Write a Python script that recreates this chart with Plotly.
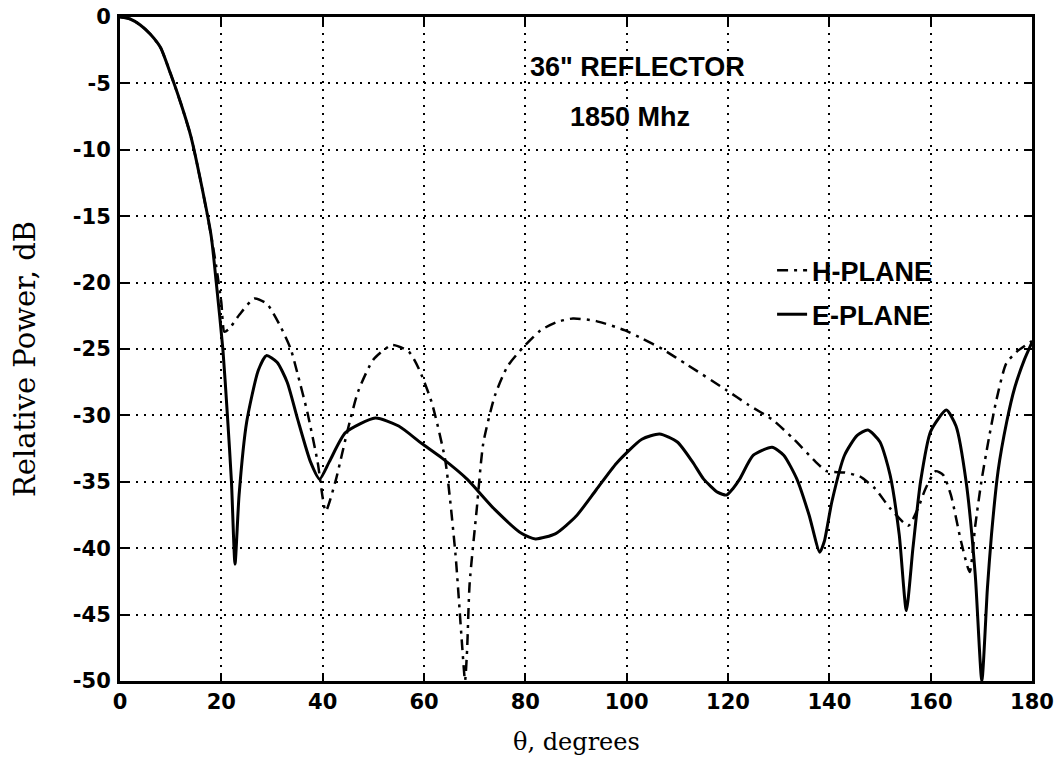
import plotly.graph_objects as go

# E-PLANE (solid)
e_theta = [0, 2, 4, 6, 8, 10, 12, 14, 16, 18, 19, 20.3, 21.2, 22, 22.7, 23.5, 25, 27.3, 28.9, 31, 33, 35,
           37.6, 39.4, 41.3, 44.5, 50.4, 55, 59.5, 63.5, 68.5, 74, 79.3, 82, 86, 90, 94, 98, 103, 106.5, 110,
           113, 115.2, 118, 119.7, 121, 122.3, 125, 128.7, 131, 133.6, 136, 138.1, 139, 140.5, 143, 145.5,
           147.6, 150, 152, 153.8, 155.2, 156.5, 158, 160, 163.1, 165, 167, 168.8, 170.1, 171.2, 172, 173.3,
           175, 176.6, 178.5, 180]
e_db = [0, -0.15, -0.6, -1.3, -2.3, -4.3, -6.5, -9, -12.5, -16.5, -20, -25, -30, -35, -41.2, -36, -30.5,
        -26.6, -25.5, -26, -27.5, -30.2, -33.5, -34.8, -33.5, -31.3, -30.2, -30.8, -32.1, -33.2, -34.8,
        -37.1, -38.9, -39.3, -38.9, -37.6, -35.6, -33.6, -31.8, -31.4, -32, -33.5, -34.8, -35.8, -36, -35.5,
        -34.8, -33, -32.4, -33, -34.8, -37.5, -40.3, -39.5, -36.5, -33, -31.5, -31.1, -32, -34.5, -39,
        -44.7, -40, -35, -31.2, -29.6, -30.8, -35, -42, -50, -43, -39, -34.2, -30.5, -27.9, -25.8, -24.5]

# H-PLANE (dash-dot)
h_theta = [0, 2, 4, 6, 8, 10, 12, 14, 16, 18, 19, 20, 20.6, 21.5, 23.6, 26.5, 29, 31.8, 33.7, 35, 37, 39,
           40.6, 42.5, 45, 47, 50, 53.7, 57, 59, 61.5, 64.2, 66.2, 67.5, 68.1, 68.5, 69, 70.4, 71.7, 74,
           76.5, 79.5, 83, 86, 89.4, 94, 99.7, 103, 107, 112, 119.7, 124, 128.7, 133, 137.3, 139.5, 143, 146,
           149, 152, 155.6, 157.5, 159, 161, 162.5, 164, 166, 167.7, 168.8, 170, 171.5, 173, 174.9, 177, 180]
h_db = [0, -0.15, -0.6, -1.3, -2.3, -4.3, -6.5, -9, -12.5, -16.5, -18.8, -21.5, -23.7, -23.5, -22.4,
        -21.2, -21.6, -23.4, -25, -26.8, -29.8, -33.5, -37.2, -35, -31, -28.2, -25.8, -24.7, -25.2, -26.5,
        -29, -33.4, -40.4, -47.2, -50, -47.7, -42.7, -37.1, -32.1, -28.5, -26.3, -24.9, -23.6, -23, -22.7,
        -22.9, -23.6, -24.2, -25, -26.2, -28.1, -29.2, -30.3, -31.8, -33.5, -34.2, -34.3, -34.6, -35.5,
        -37, -38.3, -37, -35.5, -34.2, -34.5, -36, -39.5, -41.8, -38.3, -35, -31.7, -28.8, -26.1, -25.2,
        -24.4]

x_ticks = [0, 20, 40, 60, 80, 100, 120, 140, 160, 180]
y_ticks = [0, -5, -10, -15, -20, -25, -30, -35, -40, -45, -50]
y_tick_text = ["0", "-5", "-10", "-15", "-20", "-25", "-30", "-35", "-40", "-45", "-50"]

fig = go.Figure()
fig.add_trace(go.Scatter(x=h_theta, y=h_db, mode="lines", name="H-PLANE", legendgroup="h",
                         line=dict(color="black", width=2.5, dash="11px,6px,3px,6px",
                                   shape="spline", smoothing=0.6)))
fig.add_trace(go.Scatter(x=e_theta, y=e_db, mode="lines", name="E-PLANE", legendgroup="e",
                         line=dict(color="black", width=3, shape="spline", smoothing=0.6)))

tickfont = dict(family="DejaVu Sans", size=21, color="black", weight="bold")
axis_common = dict(showline=True, linecolor="black", linewidth=3, mirror="ticks",
                   ticks="inside", ticklen=8, tickwidth=2, tickcolor="black",
                   showgrid=True, gridcolor="black", gridwidth=1.5, griddash="2px,6px",
                   zeroline=False, tickfont=tickfont, automargin=False)

fig.update_xaxes(range=[0, 180], tickvals=x_ticks, **axis_common)
fig.update_yaxes(range=[-50, 0], tickvals=y_ticks, ticktext=y_tick_text, ticklabelstandoff=2,
                 **axis_common)

bold27 = dict(family="Liberation Sans", size=27, color="black", weight="bold")

fig.update_layout(
    width=1062, height=773,
    margin=dict(l=120, r=30, t=17, b=92),
    paper_bgcolor="white", plot_bgcolor="white",
    showlegend=True,
    legend=dict(x=0.715, y=0.655, xanchor="left", yanchor="top", bgcolor="rgba(0,0,0,0)",
                font=bold27, traceorder="grouped", tracegroupgap=6, itemwidth=30),
    annotations=[
        dict(text='36" REFLECTOR', x=102.2, y=-3.75, xref="x", yref="y", showarrow=False,
             font=bold27),
        dict(text="1850 Mhz", x=100.7, y=-7.5, xref="x", yref="y", showarrow=False,
             font=bold27),
        dict(text="Relative Power, dB", x=0, y=0.485, xref="paper", yref="paper", xshift=-95,
             textangle=-90, showarrow=False, xanchor="center", yanchor="middle",
             font=dict(family="DejaVu Serif", size=29, color="black")),
        dict(text="θ, degrees", x=0.5, y=0, xref="paper", yref="paper", yshift=-61,
             showarrow=False, xanchor="center", yanchor="middle",
             font=dict(family="DejaVu Serif", size=24, color="black")),
    ],
)

fig.write_html("out.html")
